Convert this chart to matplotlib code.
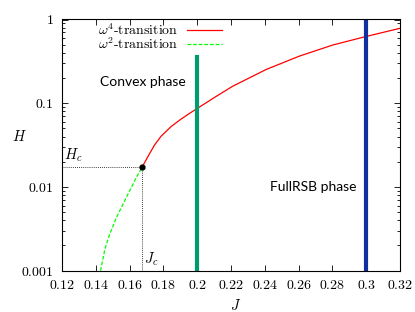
import matplotlib
matplotlib.use("Agg")
import matplotlib.pyplot as plt

plt.rcParams['font.family'] = 'serif'
plt.rcParams['font.serif'] = ['cmr10', 'DejaVu Serif']
plt.rcParams['mathtext.fontset'] = 'cm'
plt.rcParams['axes.formatter.use_mathtext'] = True

# omega^4 transition line (red), from the critical point upwards
J4 = [0.1674, 0.1707, 0.1747, 0.1786, 0.1845, 0.1904, 0.1963, 0.2002, 0.2113,
      0.2211, 0.2408, 0.2604, 0.2801, 0.2992, 0.3200]
H4 = [0.01726, 0.0228, 0.0316, 0.0403, 0.0525, 0.0646, 0.0776, 0.0871, 0.121,
      0.160, 0.253, 0.365, 0.495, 0.622, 0.785]

# omega^2 transition line (green dashed), below the critical point
J2 = [0.1428, 0.1454, 0.1483, 0.1523, 0.1562, 0.1601, 0.1641, 0.1674]
H2 = [0.001, 0.00182, 0.00275, 0.00435, 0.00629, 0.00908, 0.0131, 0.01726]

Jc, Hc = 0.1674, 0.01726
J_convex, H_convex_top = 0.2, 0.36
J_full = 0.3

xticks = [0.12, 0.14, 0.16, 0.18, 0.2, 0.22, 0.24, 0.26, 0.28, 0.3, 0.32]
yticks = [0.001, 0.01, 0.1, 1]

fig = plt.figure(figsize=(4.15, 3.12), dpi=100)
ax = fig.add_axes([0.1494, 0.1324, 0.8145, 0.8051])

ax.plot(J4, H4, color='#ff0000', lw=0.9, label=r'$\omega^4$-transition')
ax.plot(J2, H2, color='#00ff00', lw=0.9, ls=(0, (3, 1.5)), label=r'$\omega^2$-transition')
ax.plot([J_convex, J_convex], [0.001, H_convex_top], color='#009b6e', lw=3)
ax.plot([J_full, J_full], [0.001, 1], color='#1030a0', lw=3)

ax.plot([0.12, Jc], [Hc, Hc], color='black', lw=0.6, ls=(0, (1, 1.5)))
ax.plot([Jc, Jc], [0.001, Hc], color='black', lw=0.6, ls=(0, (1, 1.5)))
ax.plot([Jc], [Hc], 'o', color='black', ms=3.5)

ax.text(0.1213, Hc * 1.08, r'$H_c$', fontsize=10.5, va='bottom', ha='left')
ax.text(Jc + 0.0012, 0.00108, r'$J_c$', fontsize=10.5, va='bottom', ha='left')
ax.text(0.1678, 0.18, 'Convex phase', family='Lato', fontsize=10, ha='center', va='center')
ax.text(0.2687, 0.0101, 'FullRSB phase', family='Lato', fontsize=10, ha='center', va='center')

ax.set_yscale('log')
ax.set_xlim(0.12, 0.32)
ax.set_ylim(0.001, 1)
ax.set_xticks(xticks)
ax.set_xticklabels(['$%g$' % t for t in xticks])
ax.set_yticks(yticks)
ax.set_yticklabels(['$%g$' % t for t in yticks])
ax.tick_params(which='both', direction='in', top=True, right=True, labelsize=10, pad=6)
ax.tick_params(which='major', length=4, width=0.6)
ax.tick_params(which='minor', length=2, width=0.6)
for s in ax.spines.values():
    s.set_linewidth(0.8)

ax.set_xlabel(r'$J$', fontsize=10.5)
ax.set_ylabel(r'$H$', fontsize=10.5, rotation=0)
ax.xaxis.set_label_coords(0.515, -0.11)
ax.yaxis.set_label_coords(-0.125, 0.505)

ax.legend(loc='upper left', bbox_to_anchor=(0.07, 1.04), frameon=False, markerfirst=False,
          fontsize=10, handlelength=2.5, handletextpad=0.6, labelspacing=-0.1)

fig.savefig('out.png', dpi=100)
